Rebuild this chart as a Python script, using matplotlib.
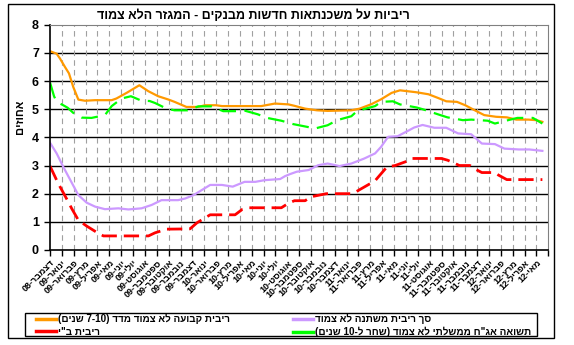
import re
import numpy as np
import matplotlib
matplotlib.use("Agg")
import matplotlib.pyplot as plt
from matplotlib.patches import Rectangle

plt.rcParams['font.family'] = ['Liberation Sans', 'DejaVu Sans']
plt.rcParams['font.weight'] = 'bold'
plt.rcParams['lines.scale_dashes'] = False


def rtl(s):
    # matplotlib has no bidi support: lay Hebrew out right-to-left by hand
    s = s[::-1]
    s = re.sub(r'[0-9A-Za-z][0-9A-Za-z\-\.]*[0-9A-Za-z]|[0-9A-Za-z]',
               lambda m: m.group(0)[::-1], s)
    return s.translate(str.maketrans('()', ')('))


# --- data: x in months since Dec-2008 ---
month_names = ['ינואר', 'פברואר', 'מרץ', 'אפריל', 'מאי', 'יוני', 'יולי',
               'אוגוסט', 'ספטמבר', 'אוקטובר', 'נובמבר', 'דצמבר']
tick_labels = ['דצמבר-08'] + [f'{m}-{y:02d}' for y in (9, 10, 11) for m in month_names] \
              + [f'{m}-12' for m in month_names[:5]]

fixed_x = [0, 0.56, 0.84, 1.26, 1.6, 1.96, 2.39, 2.95, 3.8, 5.2, 5.6, 6.46, 7.53, 8.28,
           9.12, 10.0, 10.5, 11.5, 12.5, 13.06, 14.0, 14.5, 17.8, 18.96, 20.1, 20.6, 21.5,
           22.5, 23.4, 25.4, 26.1, 27.1, 27.9, 28.8, 29.5, 30.9, 31.9, 32.7, 33.4, 34.3,
           35.0, 35.9, 36.6, 37.6, 38.5, 39.3, 40.3, 41.0, 41.5]
fixed_rate = [7.06, 6.97, 6.80, 6.50, 6.27, 5.79, 5.34, 5.30, 5.32, 5.32, 5.38, 5.58, 5.85,
              5.64, 5.46, 5.34, 5.26, 5.08, 5.08, 5.14, 5.14, 5.11, 5.11, 5.20, 5.17, 5.12,
              5.02, 4.96, 4.94, 4.96, 5.02, 5.18, 5.35, 5.58, 5.67, 5.60, 5.53, 5.40, 5.28,
              5.26, 5.14, 4.94, 4.79, 4.73, 4.71, 4.63, 4.63, 4.61, 4.55]

variable_x = [0, 0.56, 1.12, 1.68, 2.39, 3.09, 3.8, 4.63, 5.76, 6.6, 7.72, 8.57, 9.4, 10.8,
              11.4, 12.1, 12.8, 13.5, 14.5, 15.4, 16.4, 17.3, 18.1, 19.4, 19.8, 20.2, 20.8,
              21.8, 22.6, 23.4, 24.4, 25.4, 26.5, 27.4, 27.9, 28.5, 29.3, 30.3, 30.7, 31.4,
              32.4, 33.4, 34.4, 35.5, 36.4, 37.5, 38.3, 39.5, 40.4, 41.5]
variable_rate = [3.81, 3.43, 2.95, 2.51, 1.95, 1.68, 1.54, 1.45, 1.48, 1.44, 1.48, 1.60,
                 1.77, 1.77, 1.83, 1.95, 2.13, 2.31, 2.31, 2.25, 2.42, 2.42, 2.48, 2.52,
                 2.62, 2.69, 2.78, 2.84, 3.01, 3.07, 2.98, 3.07, 3.25, 3.43, 3.66, 4.02,
                 4.04, 4.26, 4.35, 4.44, 4.34, 4.34, 4.14, 4.11, 3.78, 3.76, 3.60, 3.57,
                 3.57, 3.52]

boi_x = [0, 0.56, 0.84, 1.54, 1.82, 2.39, 3.09, 3.93, 4.5, 8.3, 8.85, 9.83, 11.8, 12.4,
         13.5, 15.6, 16.2, 16.8, 19.5, 20.1, 20.6, 21.5, 22.0, 23.3, 25.4, 25.8, 27.0,
         27.4, 28.4, 29.1, 30.2, 30.5, 33.0, 33.5, 34.0, 34.5, 35.4, 35.8, 36.4, 37.5,
         37.8, 38.5, 41.5]
boi_rate = [2.98, 2.48, 2.25, 1.71, 1.48, 1.06, 0.85, 0.63, 0.50, 0.50, 0.61, 0.74, 0.75,
            0.97, 1.25, 1.25, 1.44, 1.50, 1.50, 1.66, 1.75, 1.75, 1.89, 2.00, 2.00, 2.07,
            2.36, 2.46, 2.95, 3.00, 3.17, 3.25, 3.25, 3.19, 3.10, 3.00, 3.00, 2.88, 2.75,
            2.75, 2.66, 2.50, 2.50]

bond_x = [0, 0.34, 0.56, 1.12, 1.49, 1.96, 2.67, 3.5, 4.63, 5.2, 6.04, 6.82, 7.72, 8.4,
          8.85, 9.83, 10.5, 11.6, 12.5, 13.6, 14.6, 15.6, 16.4, 17.5, 18.3, 19.5, 20.5,
          21.7, 22.3, 23.4, 24.2, 25.4, 25.9, 27.4, 27.9, 28.9, 29.5, 30.9, 31.4, 32.9,
          33.5, 34.8, 35.5, 36.9, 37.5, 38.8, 39.4, 40.7, 41.5]
bond_yield = [5.95, 5.46, 5.26, 5.14, 5.05, 4.87, 4.70, 4.69, 4.79, 5.11, 5.38, 5.46, 5.30,
              5.29, 5.22, 5.02, 4.96, 4.96, 5.10, 5.10, 4.93, 4.93, 4.95, 4.82, 4.69, 4.59,
              4.47, 4.37, 4.31, 4.43, 4.61, 4.75, 4.94, 5.11, 5.26, 5.28, 5.17, 5.06, 5.00,
              4.79, 4.71, 4.61, 4.63, 4.59, 4.49, 4.63, 4.69, 4.69, 4.49]

W, H = 574, 345
fig = plt.figure(figsize=(W / 100, H / 100), dpi=100)
ax = fig.add_axes([50 / W, 1 - 250 / H, 498.3 / W, 225.3 / H])

l_fixed, = ax.plot(fixed_x, fixed_rate, color='#ff9900', lw=1.6,
                   label=rtl('ריבית קבועה לא צמוד מדד (7-10 שנים)'))
l_boi, = ax.plot(boi_x, boi_rate, color='#ff0000', lw=2.0, dashes=[11, 5],
                 label=rtl('ריבית ב"י'))
l_var, = ax.plot(variable_x, variable_rate, color='#cc99ff', lw=1.6,
                 label=rtl('סך ריבית משתנה לא צמוד'))
l_bond, = ax.plot(bond_x, bond_yield, color='#00ff00', lw=1.6, dashes=[12, 6],
                  label=rtl('תשואה אג"ח ממשלתי לא צמוד (שחר ל-10 שנים)'))

ax.set_xlim(0, 42)
ax.set_ylim(0, 8)
ax.set_yticks(range(0, 9))
ax.set_xticks(range(0, 43))
ax.set_xticklabels([rtl(t) for t in tick_labels] + [''], rotation=45,
                   ha='right', va='top', rotation_mode='anchor', fontsize=6.5)
ax.tick_params(axis='x', length=4, pad=2, width=1)
ax.tick_params(axis='y', length=4, pad=4, width=1, labelsize=9)

# grid: solid black horizontals, grey dashed verticals
for v in range(1, 8):
    ax.axhline(v, color='black', lw=1, zorder=0)
for v in range(1, 42):
    ax.axvline(v, color='#a0a0a0', lw=0.8, ls=(0, (4, 3)), zorder=0)

ax.spines['top'].set_color('#808080')
ax.spines['right'].set_color('#808080')
ax.spines['left'].set_linewidth(1.2)
ax.spines['bottom'].set_linewidth(1.2)

fig.text(253 / W, 1 - 16 / H, rtl('ריביות על משכנתאות חדשות מבנקים - המגזר הלא צמוד'),
         ha='center', va='center', fontsize=9, fontweight='bold')
fig.text(20 / W, 1 - 117 / H, rtl('אחוזים'), rotation=90,
         ha='center', va='center', fontsize=8, fontweight='bold')

# legend: two columns placed separately inside one frame
leg_kw = dict(fontsize=7.1, handlelength=2.0, handletextpad=0.25, borderpad=0,
              labelspacing=0.25, borderaxespad=0, frameon=False)
leg1 = fig.legend(handles=[l_fixed, l_boi], loc='upper left',
                  bbox_to_anchor=(36 / W, 1 - 314 / H), **leg_kw)
leg2 = fig.legend(handles=[l_var, l_bond], loc='upper left',
                  bbox_to_anchor=(293 / W, 1 - 314 / H), **leg_kw)
for leg in (leg1, leg2):
    for line in leg.get_lines():
        line.set_linewidth(2.5)
        line.set_linestyle('-')

fig.patches.append(Rectangle((25 / W, 1 - 336 / H), 512 / W, 23.5 / H,
                             transform=fig.transFigure, fill=False,
                             edgecolor='black', lw=1))
fig.patches.append(Rectangle((8 / W, 1 - 338 / H), 546 / W, 334 / H,
                             transform=fig.transFigure, fill=False,
                             edgecolor='black', lw=1))

fig.savefig('out.png', dpi=100)
